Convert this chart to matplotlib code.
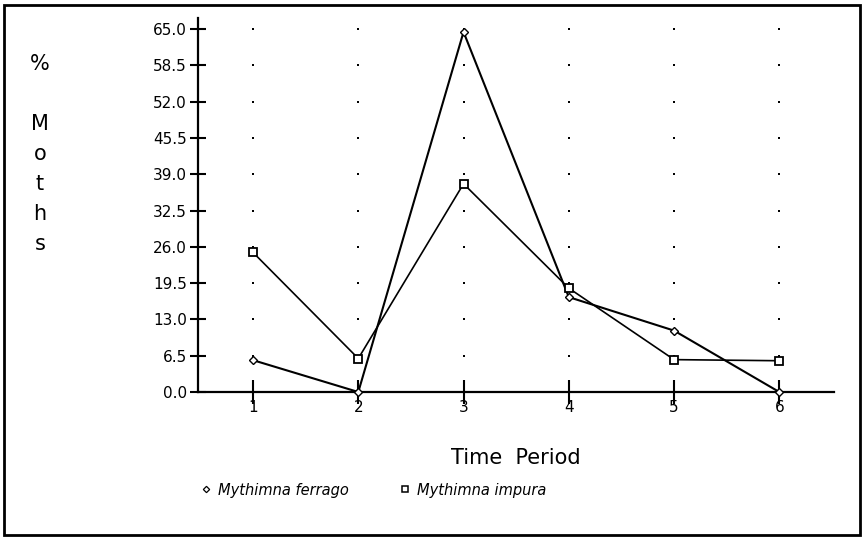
import numpy as np
import matplotlib
matplotlib.use('Agg')
import matplotlib.pyplot as plt
from matplotlib.lines import Line2D
from matplotlib.patches import Rectangle

periods = [1, 2, 3, 4, 5, 6]
ferrago = [5.7, 0.0, 64.5, 17.0, 11.0, 0.0]
impura = [25.0, 6.0, 37.3, 18.6, 5.8, 5.6]
yticks = [0.0, 6.5, 13.0, 19.5, 26.0, 32.5, 39.0, 45.5, 52.0, 58.5, 65.0]
series_names = ['Mythimna ferrago', 'Mythimna impura']

plt.rcParams['font.family'] = 'DejaVu Sans'

fig = plt.figure(figsize=(8.64, 5.37), dpi=100)
ax = fig.add_axes([198 / 864, 1 - 392 / 537, (834 - 198) / 864, (392 - 18) / 537])

# dotted grid: one dot at each tick intersection
gx, gy = np.meshgrid(periods, yticks[1:])
ax.plot(gx.ravel(), gy.ravel(), linestyle='none', marker='s', markersize=1.6,
        markeredgewidth=0, color='black', clip_on=False)

ax.plot(periods, ferrago, color='black', linewidth=1.5, marker='D', markersize=4,
        markerfacecolor='white', markeredgecolor='black', markeredgewidth=1.0,
        clip_on=False, zorder=3)
ax.plot(periods, impura, color='black', linewidth=1.2, marker='s', markersize=6,
        markerfacecolor='white', markeredgecolor='black', markeredgewidth=1.3,
        clip_on=False, zorder=3)

ax.set_xlim(0.477, 6.52)
ax.set_ylim(0, 67.0)
ax.set_xticks(periods)
ax.set_yticks(yticks)
ax.set_yticklabels(['{:.1f}'.format(v) for v in yticks])
for s in ['top', 'right']:
    ax.spines[s].set_visible(False)
for s in ['left', 'bottom']:
    ax.spines[s].set_linewidth(1.6)
ax.tick_params(axis='y', direction='inout', length=12, width=1.5, labelsize=11, pad=2)
ax.tick_params(axis='x', direction='inout', length=17, width=1.5, labelsize=11, pad=-3)

ax.set_xlabel('Time  Period', fontsize=15, labelpad=24)

fig.text(40 / 864, 1 - 154 / 537, '%\n\nM\no\nt\nh\ns', ha='center', va='center',
         fontsize=15, linespacing=1.63)

handles = [
    Line2D([], [], linestyle='none', marker='D', markersize=3.2, markerfacecolor='white',
           markeredgecolor='black', markeredgewidth=0.9),
    Line2D([], [], linestyle='none', marker='s', markersize=4.5, markerfacecolor='white',
           markeredgecolor='black', markeredgewidth=1.1),
]
fig.legend(handles, series_names, loc='center left', bbox_to_anchor=(0.218, 1 - 490 / 537),
           ncol=2, frameon=False, prop={'style': 'italic', 'size': 10.5},
           handlelength=0.6, handletextpad=0.5, columnspacing=3.6)

fig.patches.append(Rectangle((4 / 864, 2 / 537), 856 / 864, 530 / 537, transform=fig.transFigure,
                             fill=False, edgecolor='black', linewidth=2))

fig.savefig('out.png', dpi=100, facecolor='white')
